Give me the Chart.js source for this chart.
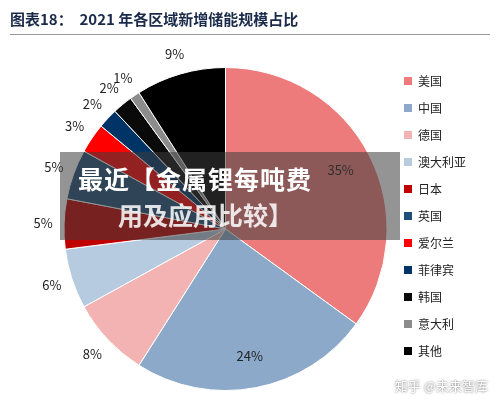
<!DOCTYPE html>
<html><head><meta charset="utf-8">
<script src="https://cdn.jsdelivr.net/npm/chart.js@4"></script>
<style>
body{margin:0;width:500px;height:403px;background:#fff;font-family:"Noto Sans CJK SC",sans-serif;position:relative;overflow:hidden}
#title{position:absolute;left:10px;top:8px;font-size:15px;font-weight:bold;color:#1a2a4a}
#line{position:absolute;left:10px;right:10px;top:34px;border-top:1px solid #999}
#legend{position:absolute;left:404px;top:67px;font-size:12px;color:#222}
#legend div{height:27px;display:flex;align-items:center}
#legend span{display:inline-block;width:8px;height:8px;margin-right:6px}
#band{position:absolute;left:60px;top:152px;width:340px;height:88px;background:rgba(60,60,60,0.55)}
#b1{position:absolute;left:78px;top:160px;font-size:25px;font-weight:bold;color:#fff;letter-spacing:1px}
#b2{position:absolute;left:118px;top:196px;font-size:25px;font-weight:bold;color:rgba(255,255,255,0.85)}
#wm{position:absolute;right:12px;bottom:8px;font-size:13px;color:#fff;text-shadow:0 0 2px #555}
</style></head><body>
<canvas id="c" width="500" height="403" style="position:absolute;left:0;top:0"></canvas>
<div id="title">图表18：&nbsp;&nbsp;2021 年各区域新增储能规模占比</div>
<div id="line"></div>
<div id="legend"></div>
<div id="band"></div>
<div id="b1">最近【金属锂每吨费</div>
<div id="b2">用及应用比较】</div>
<div id="wm">知乎 @未来智库</div>
<script>
const regions = ['美国','中国','德国','澳大利亚','日本','英国','爱尔兰','菲律宾','韩国','意大利','其他'];
const shares = [35,24,8,6,5,5,3,2,2,1,9];
const colors = ['#EE7B7B','#8CA9C9','#F3B3B3','#B7CBE0','#C00000','#1F4E79','#FF0000','#003366','#0A0A0A','#8C8C8C','#000000'];

const leg = document.getElementById('legend');
regions.forEach((r,i)=>{leg.innerHTML += `<div><span style="background:${colors[i]}"></span>${r}</div>`;});

const labelPlugin = {
  id:'pl',
  afterDatasetsDraw(chart){
    const ctx = chart.ctx;
    ctx.save();
    ctx.font = '13px "Noto Sans CJK SC", sans-serif';
    ctx.fillStyle = '#222';
    ctx.textAlign='center';ctx.textBaseline='middle';
    chart.getDatasetMeta(0).data.forEach((arc,i)=>{
      const a=(arc.startAngle+arc.endAngle)/2;
      const k = shares[i] >= 20 ? 0.8 : 1.13;
      const x=arc.x+Math.cos(a)*arc.outerRadius*k, y=arc.y+Math.sin(a)*arc.outerRadius*k;
      ctx.fillText(shares[i]+'%',x,y);
    });
    ctx.restore();
  }
};

new Chart(document.getElementById('c'),{
  type:'pie',
  data:{labels:regions,datasets:[{data:shares,backgroundColor:colors,borderColor:'#fff',borderWidth:1}]},
  options:{responsive:false,animation:false,
    layout:{padding:{left:63,right:112,top:67,bottom:12}},
    plugins:{legend:{display:false},tooltip:{enabled:false}}},
  plugins:[labelPlugin]
});
</script>
</body></html>
